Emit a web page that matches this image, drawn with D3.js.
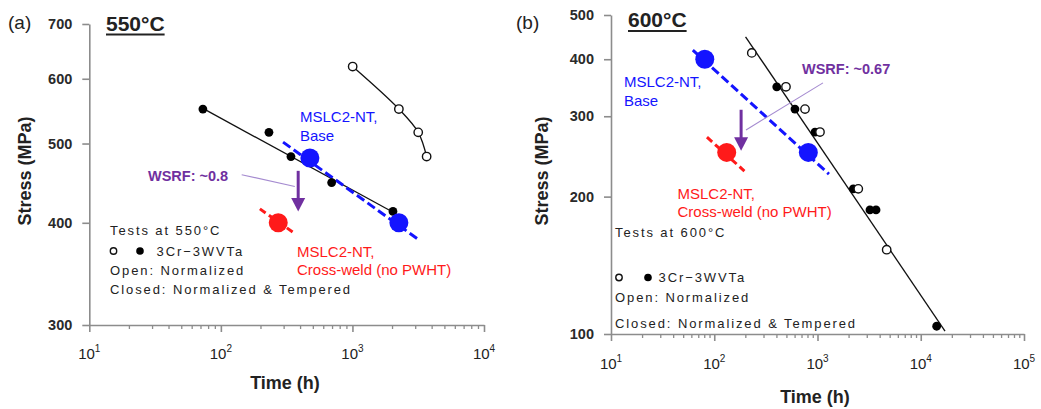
<!DOCTYPE html>
<html>
<head>
<meta charset="utf-8">
<script src="https://cdn.jsdelivr.net/npm/d3@7"></script>
<style>
  body { margin: 0; background: #fff; }
  svg { display: block; font-family: "Liberation Sans", Arial, Helvetica, sans-serif; }
</style>
</head>
<body>
<svg id="chart" width="1041" height="409"></svg>
<script>
// ---------- 550 °C creep-rupture data (time in h, stress in MPa) ----------
const t550Closed = [73, 232, 341, 695, 2033];
const s550Closed = [551, 516, 482, 448, 413];
const t550Open = [1004, 2254, 3162, 3664];
const s550Open = [621, 551, 516, 482];
const t550Fit = [73, 2040];
const s550Fit = [552, 412];
const t550Base = [475, 2254];
const s550Base = [480, 400];
const t550BaseTrend = [297, 3148];
const s550BaseTrend = [502, 382];
const t550Weld = [273];
const s550Weld = [400];
const t550WeldTrend = [198, 366];
const s550WeldTrend = [416, 388];
const t550Arrow = [387, 387];
const s550Arrow = [463, 413];
const t550Leader = [144, 365];
const s550Leader = [458, 443];
const stressTicks550 = [300, 400, 500, 600, 700];
const timeDecades550 = [10, 100, 1000, 10000];
const legend550 = ["Tests at 550°C", "3Cr\u22123WVTa", "Open: Normalized", "Closed: Normalized & Tempered"];

// ---------- 600 °C creep-rupture data ----------
const t600Closed = [403, 605, 946, 2223, 3222, 3688, 14260];
const s600Closed = [348, 311, 277, 208, 187, 187, 104];
const t600Open = [231, 495, 757, 1057, 2483, 4677];
const s600Open = [413, 348, 311, 277, 208, 153];
const t600Fit = [201, 17180];
const s600Fit = [448, 101.5];
const t600Base = [81, 815];
const s600Base = [400, 250];
const t600BaseTrend = [62, 1291];
const s600BaseTrend = [419, 224];
const t600Weld = [132];
const s600Weld = [250];
const t600WeldTrend = [85, 196];
const s600WeldTrend = [270, 227.5];
const t600Arrow = [182, 182];
const s600Arrow = [310, 252];
const t600Leader = [1130, 203];
const s600Leader = [355, 280];
const stressTicks600 = [100, 200, 300, 400, 500];
const timeDecades600 = [10, 100, 1000, 10000, 100000];
const legend600 = ["Tests at 600°C", "3Cr\u22123WVTa", "Open: Normalized", "Closed: Normalized & Tempered"];

const zip = (a, b) => a.map((v, i) => [v, b[i]]);

const BLUE = "#1414ff", RED = "#ff1a1a", PURPLE = "#7030a0", AXIS = "#8c8c8c";

const panels = [
  {
    tag: "(a)", tagX: 8, tagY: 29,
    title: "550°C", titleX: 106, titleY: 31, underlineY: 34.5,
    x: d3.scaleLog().domain([10, 1e4]).range([89.3, 484]),
    y: d3.scaleLog().domain([300, 700]).range([325, 24]),
    stressTicks: stressTicks550, decades: timeDecades550,
    closed: zip(t550Closed, s550Closed), open: zip(t550Open, s550Open),
    fit: zip(t550Fit, s550Fit), openCurve: true,
    base: zip(t550Base, s550Base), baseTrend: zip(t550BaseTrend, s550BaseTrend),
    weld: zip(t550Weld, s550Weld), weldTrend: zip(t550WeldTrend, s550WeldTrend),
    arrow: zip(t550Arrow, s550Arrow), leader: zip(t550Leader, s550Leader),
    wsrf: "WSRF: ~0.8", wsrfX: 148, wsrfY: 180.5,
    baseText: [300, 122, 140.5], weldText: [297, 257, 275],
    legend: legend550, legendX: 110, legendY: [235, 255.5, 275, 293.5],
    symX: [113.5, 140], textX2: 156.5,
    yTitleX: 31, yTitleY: 171, xTitleX: 285, xTitleY: 389, xLabelY: 358.5
  },
  {
    tag: "(b)", tagX: 516, tagY: 29,
    title: "600°C", titleX: 628, titleY: 27, underlineY: 31,
    x: d3.scaleLog().domain([10, 1e5]).range([611, 1024]),
    y: d3.scaleLog().domain([100, 500]).range([334, 15]),
    stressTicks: stressTicks600, decades: timeDecades600,
    closed: zip(t600Closed, s600Closed), open: zip(t600Open, s600Open),
    fit: zip(t600Fit, s600Fit), openCurve: false,
    base: zip(t600Base, s600Base), baseTrend: zip(t600BaseTrend, s600BaseTrend),
    weld: zip(t600Weld, s600Weld), weldTrend: zip(t600WeldTrend, s600WeldTrend),
    arrow: zip(t600Arrow, s600Arrow), leader: zip(t600Leader, s600Leader),
    wsrf: "WSRF: ~0.67", wsrfX: 802, wsrfY: 73.5,
    baseText: [624, 87, 105.5], weldText: [677.5, 198.5, 217],
    legend: legend600, legendX: 615, legendY: [236.5, 282, 302, 327.5],
    symX: [619, 648], textX2: 658.5,
    yTitleX: 548, yTitleY: 171, xTitleX: 815, xTitleY: 403, xLabelY: 368.5
  }
];

const svg = d3.select("#chart");

panels.forEach(p => {
  const g = svg.append("g");
  const x = p.x, y = p.y;
  const [x0] = x.range();
  const yBottom = y.range()[0];

  // panel tag and temperature heading
  g.append("text").attr("x", p.tagX).attr("y", p.tagY)
    .attr("font-size", 19).attr("fill", "#222").text(p.tag);
  const title = g.append("text").attr("x", p.titleX).attr("y", p.titleY)
    .attr("font-size", 21).attr("font-weight", "bold").attr("fill", "#222").text(p.title);
  const tw = title.node().getComputedTextLength();
  g.append("line").attr("x1", p.titleX).attr("x2", p.titleX + tw)
    .attr("y1", p.underlineY).attr("y2", p.underlineY)
    .attr("stroke", "#222").attr("stroke-width", 2);

  // y axis (log stress)
  const yAxis = g.append("g").attr("transform", `translate(${x0},0)`)
    .call(d3.axisLeft(y).tickValues(p.stressTicks).tickSize(7).tickSizeOuter(0)
      .tickFormat(d3.format("d")).tickPadding(10));
  yAxis.select(".domain").attr("stroke", AXIS).attr("stroke-width", 1.6);
  yAxis.selectAll(".tick line").attr("stroke", AXIS).attr("stroke-width", 1.6);
  yAxis.selectAll(".tick text").attr("font-size", 14.5).attr("font-weight", "bold")
    .attr("fill", "#2a2a2a").attr("font-family", "Liberation Sans, Arial, sans-serif");

  // x axis (log time): minor ticks, then majors with power-of-ten labels
  const minors = [];
  p.decades.slice(0, -1).forEach(d => { for (let k = 2; k <= 9; k++) minors.push(d * k); });
  const xMinor = g.append("g").attr("transform", `translate(0,${yBottom})`)
    .call(d3.axisBottom(x).tickValues(minors).tickSize(4).tickSizeOuter(0).tickFormat(""));
  xMinor.select(".domain").attr("stroke", AXIS).attr("stroke-width", 1.6);
  xMinor.selectAll(".tick line").attr("stroke", AXIS).attr("stroke-width", 1.3);
  const xMajor = g.append("g").attr("transform", `translate(0,${yBottom})`)
    .call(d3.axisBottom(x).tickValues(p.decades).tickSize(7).tickSizeOuter(0).tickFormat(""));
  xMajor.select(".domain").remove();
  xMajor.selectAll(".tick line").attr("stroke", AXIS).attr("stroke-width", 1.6);

  p.decades.forEach(d => {
    const t = g.append("text").attr("x", x(d)).attr("y", p.xLabelY)
      .attr("text-anchor", "middle").attr("font-size", 15).attr("fill", "#222");
    t.append("tspan").text("10");
    t.append("tspan").attr("dy", -7).attr("font-size", 10).text(Math.round(Math.log10(d)));
  });

  // axis titles
  g.append("text").attr("transform", `translate(${p.yTitleX},${p.yTitleY}) rotate(-90)`)
    .attr("text-anchor", "middle").attr("font-size", 18).attr("font-weight", "bold")
    .attr("fill", "#222").text("Stress (MPa)");
  g.append("text").attr("x", p.xTitleX).attr("y", p.xTitleY)
    .attr("text-anchor", "middle").attr("font-size", 18).attr("font-weight", "bold")
    .attr("fill", "#222").text("Time (h)");

  const line = d3.line().x(d => x(d[0])).y(d => y(d[1]));

  // 3Cr-3WVTa trend lines
  g.append("path").attr("d", line(p.fit)).attr("fill", "none")
    .attr("stroke", "#111").attr("stroke-width", 1.3);
  if (p.openCurve) {
    g.append("path").attr("d", line.curve(d3.curveCatmullRom)(p.open)).attr("fill", "none")
      .attr("stroke", "#111").attr("stroke-width", 1.3);
    line.curve(d3.curveLinear);
  }

  // MSLC2-NT trend lines (dashed)
  g.append("path").attr("d", line(p.baseTrend)).attr("fill", "none")
    .attr("stroke", BLUE).attr("stroke-width", 3).attr("stroke-dasharray", "9,4");
  g.append("path").attr("d", line(p.weldTrend)).attr("fill", "none")
    .attr("stroke", RED).attr("stroke-width", 3).attr("stroke-dasharray", "7,4");

  // closed (normalized & tempered) then open (normalized) markers
  g.selectAll(null).data(p.closed).join("circle")
    .attr("cx", d => x(d[0])).attr("cy", d => y(d[1])).attr("r", 4.4).attr("fill", "#000");
  g.selectAll(null).data(p.open).join("circle")
    .attr("cx", d => x(d[0])).attr("cy", d => y(d[1])).attr("r", 4.2)
    .attr("fill", "#fff").attr("stroke", "#111").attr("stroke-width", 1.4);

  // MSLC2-NT base metal and cross-weld points
  g.selectAll(null).data(p.base).join("circle")
    .attr("cx", d => x(d[0])).attr("cy", d => y(d[1])).attr("r", 9.5).attr("fill", BLUE);
  g.selectAll(null).data(p.weld).join("circle")
    .attr("cx", d => x(d[0])).attr("cy", d => y(d[1])).attr("r", 9.5).attr("fill", RED);

  // WSRF leader and strength-reduction arrow
  g.append("path").attr("d", line(p.leader)).attr("fill", "none")
    .attr("stroke", "#a58bd0").attr("stroke-width", 1.1);
  const ax = x(p.arrow[0][0]), ay0 = y(p.arrow[0][1]), ay1 = y(p.arrow[1][1]);
  const head = 13.5, half = 7;
  g.append("line").attr("x1", ax).attr("x2", ax).attr("y1", ay0).attr("y2", ay1 - head + 1)
    .attr("stroke", PURPLE).attr("stroke-width", 3);
  g.append("path")
    .attr("d", `M${ax - half},${ay1 - head}L${ax + half},${ay1 - head}L${ax},${ay1}Z`)
    .attr("fill", PURPLE);
  g.append("text").attr("x", p.wsrfX).attr("y", p.wsrfY).attr("font-size", 14.5)
    .attr("font-weight", "bold").attr("fill", PURPLE).text(p.wsrf);

  // series annotations
  const [bx, by1, by2] = p.baseText;
  g.append("text").attr("x", bx).attr("y", by1).attr("font-size", 15).attr("fill", BLUE).text("MSLC2-NT,");
  g.append("text").attr("x", bx).attr("y", by2).attr("font-size", 15).attr("fill", BLUE).text("Base");
  const [wx, wy1, wy2] = p.weldText;
  g.append("text").attr("x", wx).attr("y", wy1).attr("font-size", 15).attr("fill", RED).text("MSLC2-NT,");
  g.append("text").attr("x", wx).attr("y", wy2).attr("font-size", 15).attr("fill", RED).text("Cross-weld (no PWHT)");

  // legend block
  const legendText = (tx, ty, s) => g.append("text").attr("x", tx).attr("y", ty)
    .attr("font-size", 13).attr("letter-spacing", 1.9).attr("fill", "#222").text(s);
  legendText(p.legendX, p.legendY[0], p.legend[0]);
  g.append("circle").attr("cx", p.symX[0]).attr("cy", p.legendY[1] - 4.5).attr("r", 3.2)
    .attr("fill", "#fff").attr("stroke", "#111").attr("stroke-width", 1.4);
  g.append("circle").attr("cx", p.symX[1]).attr("cy", p.legendY[1] - 4.5).attr("r", 3.8).attr("fill", "#000");
  legendText(p.textX2, p.legendY[1], p.legend[1]);
  legendText(p.legendX, p.legendY[2], p.legend[2]);
  legendText(p.legendX, p.legendY[3], p.legend[3]);
});
</script>
</body>
</html>
